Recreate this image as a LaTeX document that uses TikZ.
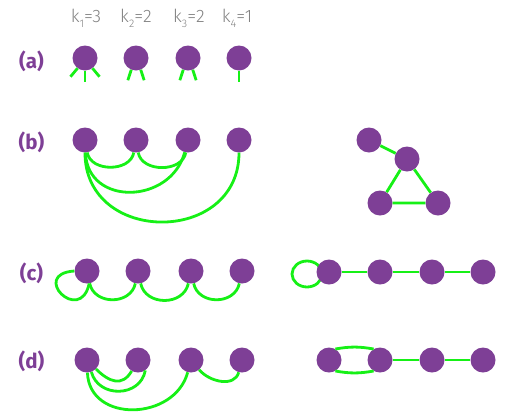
\documentclass[tikz,border=0pt]{standalone}
\usepackage{fontspec}
\setmainfont{Fira Sans}
\newfontfamily\lightfont{Fira Sans}[UprightFont=* Light]
\usetikzlibrary{backgrounds}
\definecolor{vertcol}{RGB}{126,63,150}
\definecolor{edgecol}{RGB}{22,240,22}
\definecolor{degcol}{RGB}{130,130,130}
\tikzset{
  vertex/.style={circle,fill=vertcol,inner sep=0pt,minimum size=25pt},
  edge/.style={draw=edgecol,line width=2.8pt},
  degree/.style={text=degcol,anchor=base,inner sep=0pt,font=\lightfont\fontsize{18}{20}\selectfont},
  panel/.style={text=vertcol,anchor=base,inner sep=0pt,font=\fontsize{20.5}{24}\selectfont\bfseries},
}
\newcommand{\degsub}[1]{\raisebox{-0.28em}{\fontsize{11}{11}\selectfont #1}}

\begin{document}
\begin{tikzpicture}[x=1pt,y=-1pt]
  \useasboundingbox (0,0) rectangle (508,413);

  % degrees
  \node[degree] (k1) at (86,22) {k\degsub{1}=3};
  \node[degree] (k2) at (136,22) {k\degsub{2}=2};
  \node[degree] (k3) at (189,22) {k\degsub{3}=2};
  \node[degree] (k4) at (237,22) {k\degsub{4}=1};

  % panel labels
  \node[panel] (pa) at (31.5,68) {(a)};
  \node[panel] (pb) at (31.5,149) {(b)};
  \node[panel] (pc) at (31.5,280) {(c)};
  \node[panel] (pd) at (31.5,368) {(d)};

  % (a) stubs
  \foreach \x [count=\i] in {85,136,188,239}
    \node[vertex] (a\i) at (\x,58) {};
  \foreach \n/\a/\d in {a1/-126/-130, a1/-90/-90, a1/-54/-50,
                        a2/-112/-108, a2/-68/-72,
                        a3/-112/-108, a3/-68/-72, a4/-90/-90}
    \draw[edge] (\n.\a) -- +(\d:11pt);

  % (b)
  \foreach \x [count=\i] in {85,136,188,239}
    \node[vertex] (b\i) at (\x,140) {};
  \draw[edge] (b1) to[out=-80,in=-100,looseness=1.1] (b2);
  \draw[edge] (b2) to[out=-80,in=-100,looseness=1.1] (b3);
  \draw[edge] (b1) to[out=-88,in=-105,looseness=1.39] (b3);
  \draw[edge] (b1) to[out=-90,in=-90,looseness=1.54] (b4);

  \node[vertex] (t1) at (369,140) {};
  \node[vertex] (t2) at (407,159) {};
  \node[vertex] (t3) at (380,203) {};
  \node[vertex] (t4) at (438,203) {};
  \draw[edge] (t1) -- (t2) -- (t3) -- (t4) -- (t2);

  % (c)
  \foreach \x [count=\i] in {87,138,191,242}
    \node[vertex] (c\i) at (\x,271) {};
  \draw[edge] (c1.west) .. controls +(-45,3) and +(-9,42) .. (c1.-80);
  \draw[edge] (c1) to[out=-78,in=-102,looseness=1.25] (c2);
  \draw[edge] (c2) to[out=-78,in=-102,looseness=1.25] (c3);
  \draw[edge] (c3) to[out=-78,in=-102,looseness=1.25] (c4);

  \foreach \x [count=\i] in {329,380,432,483}
    \node[vertex] (cr\i) at (\x,272) {};
  \draw[edge] (cr1) -- (cr2) -- (cr3) -- (cr4);
  \begin{pgfonlayer}{background}
    \draw[edge] ([xshift=-22pt,yshift=-2pt]cr1.center) ellipse [x radius=15pt, y radius=13pt];
  \end{pgfonlayer}

  % (d)
  \foreach \x [count=\i] in {87,138,191,242}
    \node[vertex] (d\i) at (\x,360) {};
  \draw[edge] (d1) to[out=-45,in=-120,looseness=1.33] (d2);
  \draw[edge] (d1.-70) to[out=-75,in=-100,looseness=1.3] (d2.-55);
  \draw[edge] (d1) to[out=-88,in=-105,looseness=1.29] (d3);
  \draw[edge] (d3) to[out=-50,in=-105,looseness=1.03] (d4);

  \foreach \x [count=\i] in {329,380,432,483}
    \node[vertex] (dr\i) at (\x,360) {};
  \draw[edge] (dr1.60) to[out=10,in=170] (dr2.120);
  \draw[edge] (dr1.-60) to[out=-10,in=-170] (dr2.-120);
  \draw[edge] (dr2) -- (dr3) -- (dr4);
\end{tikzpicture}
\end{document}
